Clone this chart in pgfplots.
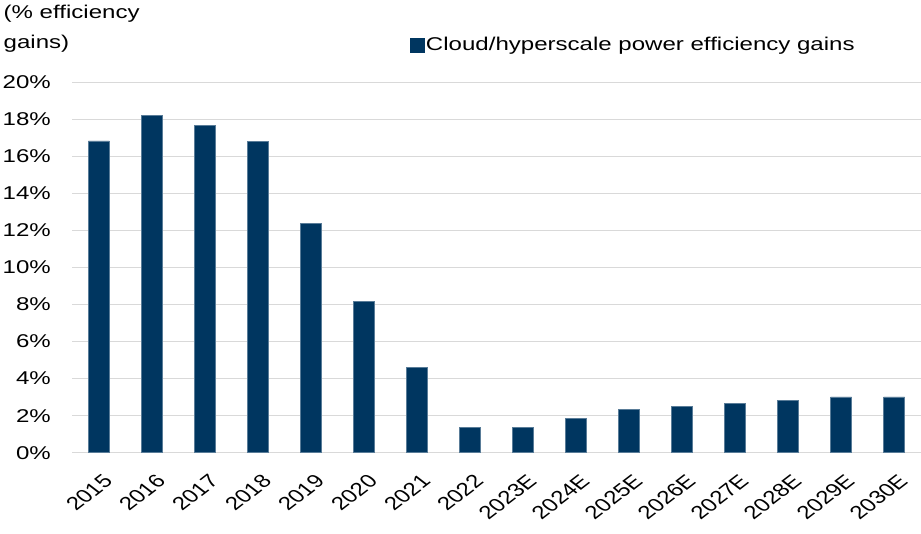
\documentclass[border=0pt]{standalone}
\usepackage{fontspec}
\setmainfont{Liberation Sans}[FakeStretch=1.3]
\newfontfamily\plainfont{Liberation Sans}
\usepackage{pgfplots}
\pgfplotsset{compat=1.18}
\definecolor{navy}{RGB}{0,54,96}
\definecolor{gridgray}{RGB}{217,217,217}
\begin{document}
\begin{tikzpicture}
\useasboundingbox (-72.5pt,-80.3pt) rectangle (848.5pt,452.7pt);
\begin{axis}[
  at={(0pt,0pt)}, anchor=south west,
  scale only axis, width=848pt, height=370.4pt,
  xmin=-0.5, xmax=15.5, ymin=0, ymax=20,
  ytick={0,2,...,20},
  xtick={0,...,15},
  xticklabels={2015,2016,2017,2018,2019,2020,2021,2022,2023E,2024E,2025E,2026E,2027E,2028E,2029E,2030E},
  yticklabel={\pgfmathprintnumber{\tick}\%},
  /pgf/number format/assume math mode=true,
  axis line style={draw=none},
  major tick length=0pt,
  ymajorgrids, grid style={gridgray, line width=1.5pt},
  yticklabel style={font=\fontsize{18.5}{22}\selectfont, anchor=east, inner sep=0pt, xshift=-21.5pt},
  xticklabel style={font=\plainfont\fontsize{18.5}{22}\selectfont, xshift=3pt, yshift=-20.5pt, xscale=1.3, rotate=45, anchor=north east, inner sep=0pt},
  ybar, bar width=21pt,
  legend style={at={(axis description cs:0.398,1.1007)}, anchor=west, draw=none, fill=none, inner sep=0pt, outer sep=0pt, nodes={inner sep=1.5pt}, column sep=0pt, font=\fontsize{18.5}{22}\selectfont},
  legend image code/.code={\fill[navy] (0pt,-7pt) rectangle (14pt,7pt);},
]
\addplot[fill=navy, draw=navy!65!white, line width=0.5pt] coordinates {
(0,16.84) (1,18.23) (2,17.66) (3,16.81) (4,12.39) (5,8.19) (6,4.62) (7,1.38)
(8,1.35) (9,1.85) (10,2.35) (11,2.52) (12,2.68) (13,2.84) (14,3.02) (15,3.02)};
\addlegendentry{Cloud/hyperscale power efficiency gains}
\end{axis}
\node[anchor=base west, inner sep=0pt, font=\fontsize{18.5}{22}\selectfont] at (-69pt,433.7pt) {(\% efficiency};
\node[anchor=base west, inner sep=0pt, font=\fontsize{18.5}{22}\selectfont] at (-69pt,403.7pt) {gains)};
\end{tikzpicture}
\end{document}
